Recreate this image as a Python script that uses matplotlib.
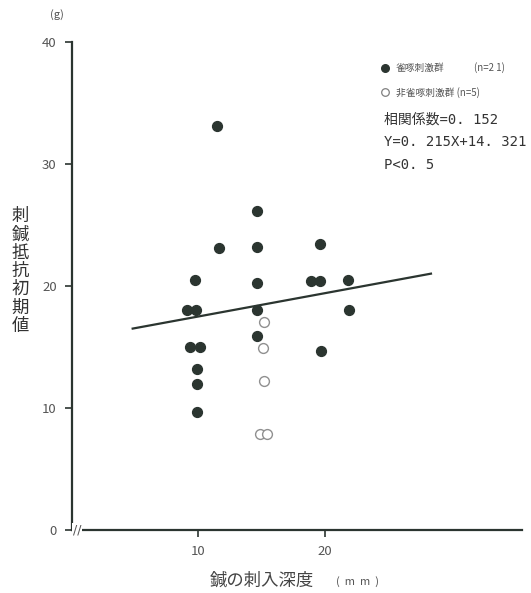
import matplotlib
matplotlib.use('Agg')
import matplotlib.pyplot as plt

plt.rcParams['font.family'] = ['Noto Sans CJK JP', 'DejaVu Sans']

# filled circles: 雀啄刺激群
fill_x = [11.5, 14.6, 11.6, 14.6, 19.6, 9.7, 14.6, 18.9, 19.6, 21.8,
          9.1, 9.8, 14.6, 21.9, 14.6, 9.3, 10.1, 19.7, 9.9, 9.9, 9.9]
fill_y = [33.1, 26.1, 23.1, 23.2, 23.4, 20.5, 20.2, 20.4, 20.4, 20.5,
          18.0, 18.0, 18.0, 18.0, 15.9, 15.0, 15.0, 14.7, 13.2, 12.0, 9.7]
# open circles: 非雀啄刺激群
open_x = [15.2, 15.1, 15.2, 14.9, 15.4]
open_y = [17.0, 14.9, 12.2, 7.9, 7.9]
# regression line as drawn
line_x = [4.8, 28.4]
line_y = [16.5, 21.0]

xticks = [10, 20]
yticks = [0, 10, 20, 30, 40]

ink = '#2b3530'

fig = plt.figure(figsize=(5.31, 5.93), dpi=100)
ax = fig.add_axes([0.1356, 0.1062, 0.8474, 0.8235])

ax.plot(line_x, line_y, color=ink, lw=1.6, zorder=2)
ax.scatter(fill_x, fill_y, s=50, color=ink, zorder=3)
ax.scatter(open_x, open_y, s=50, facecolor='white', edgecolor='#909090', lw=1.0, zorder=3)

ax.set_xlim(0, 35.6)
ax.set_ylim(0, 40)
ax.set_xticks(xticks)
ax.set_yticks(yticks)
ax.tick_params(axis='both', direction='out', length=5, width=1.2, color=ink,
               labelsize=9.5, labelcolor='#555555', pad=6)
for s in ['top', 'right']:
    ax.spines[s].set_visible(False)
for s in ['left', 'bottom']:
    ax.spines[s].set_color(ink)
    ax.spines[s].set_linewidth(1.6)

# axis break mark
ax.text(0.012, 0.0, '//', transform=ax.transAxes, fontsize=9, color='#555555',
        ha='center', va='center', family='DejaVu Sans', zorder=5,
        bbox=dict(facecolor='white', edgecolor='none', pad=0.5))

fig.text(56.7 / 531, 1 - 15 / 593, '(g)', fontsize=8, color='#555555', ha='center', va='center')

# y label, stacked vertically
fig.text(20 / 531, 1 - 271 / 593, '\n'.join('刺鍼抵抗初期値'), fontsize=12.5,
         color='#333333', ha='center', va='center', linespacing=1.02)

# x label
fig.text(262 / 531, 1 - 580 / 593, '鍼の刺入深度', fontsize=12.5, color='#444444',
         ha='center', va='center')
fig.text(358 / 531, 1 - 582 / 593, '(  m  m  )', fontsize=8, color='#555555',
         ha='center', va='center')

# legend
ax.scatter([24.75], [37.85], s=30, color=ink, clip_on=False)
ax.scatter([24.75], [35.85], s=30, facecolor='white', edgecolor='#808080', lw=0.9, clip_on=False)
ax.text(25.6, 37.85, '雀啄刺激群', fontsize=7, color='#555555', va='center')
ax.text(31.8, 37.85, '(n=2 1)', fontsize=7, color='#555555', va='center')
ax.text(25.6, 35.85, '非雀啄刺激群 (n=5)', fontsize=7, color='#555555', va='center')

# stats
stats = ['相関係数=0. 152', 'Y=0. 215X+14. 321', 'P<0. 5']
for i, s in enumerate(stats):
    ax.text(24.7, 33.6 - i * 1.85, s, fontsize=10, color='#333333', va='center',
            family=['DejaVu Sans Mono', 'Noto Sans CJK JP'])

fig.savefig('out.png', dpi=100)
